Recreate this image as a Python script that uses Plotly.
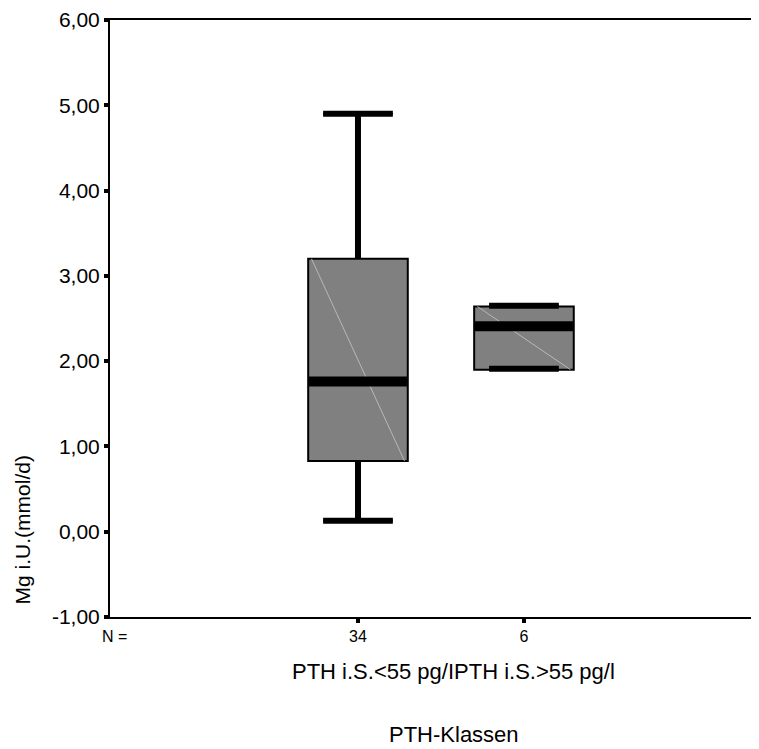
import plotly.graph_objects as go

# Data
categories = [0, 1]
n_labels = ["34", "6"]
q1 = [0.83, 1.90]
median = [1.76, 2.41]
q3 = [3.20, 2.64]
lower_fence = [0.13, 1.91]
upper_fence = [4.90, 2.65]
y_ticks = [-1, 0, 1, 2, 3, 4, 5, 6]
y_tick_labels = ["-1,00", "0,00", "1,00", "2,00", "3,00", "4,00", "5,00", "6,00"]

box_width = 0.6
cap_width = 0.42
fill = "#808080"

fig = go.Figure()

for i, x in enumerate(categories):
    fig.add_trace(go.Box(
        x=[x], q1=[q1[i]], median=[median[i]], q3=[q3[i]],
        lowerfence=[lower_fence[i]], upperfence=[upper_fence[i]],
        width=box_width, whiskerwidth=cap_width / box_width,
        fillcolor=fill, line=dict(color="black", width=2),
        boxpoints=False, showlegend=False, hoverinfo="skip",
    ))
    # faint diagonal artifact inside box
    fig.add_trace(go.Scatter(
        x=[x - box_width / 2 + 0.02, x + box_width / 2 - 0.02],
        y=[q3[i], q1[i]], mode="lines",
        line=dict(color="#b8b8b8", width=1), showlegend=False, hoverinfo="skip",
    ))
    # thick whisker stems
    if upper_fence[i] > q3[i] + 0.05:
        fig.add_trace(go.Scatter(x=[x, x], y=[q3[i], upper_fence[i]], mode="lines",
                                 line=dict(color="black", width=6), showlegend=False, hoverinfo="skip"))
    if lower_fence[i] < q1[i] - 0.05:
        fig.add_trace(go.Scatter(x=[x, x], y=[lower_fence[i], q1[i]], mode="lines",
                                 line=dict(color="black", width=6), showlegend=False, hoverinfo="skip"))
    # thick caps
    for f in (upper_fence[i], lower_fence[i]):
        fig.add_trace(go.Scatter(x=[x - cap_width / 2, x + cap_width / 2], y=[f, f], mode="lines",
                                 line=dict(color="black", width=6), showlegend=False, hoverinfo="skip"))
    # thick median
    fig.add_trace(go.Scatter(x=[x - box_width / 2 + 0.005, x + box_width / 2 - 0.005],
                             y=[median[i], median[i]], mode="lines",
                             line=dict(color="black", width=10), showlegend=False, hoverinfo="skip"))

font_family = "Liberation Sans, Arial, sans-serif"

# page body has an 8px margin; compensate so the plot lands where the reference has it
fig.update_layout(
    width=751, height=741,
    margin=dict(l=102, r=0, t=9, b=132),
    plot_bgcolor="white", paper_bgcolor="white",
    font=dict(family=font_family, color="black", size=21),
    showlegend=False,
    xaxis=dict(
        range=[-1.494, 2.416], tickvals=categories, ticktext=n_labels,
        showline=True, linecolor="black", linewidth=2, mirror=True,
        ticks="outside", ticklen=4, tickwidth=4, tickcolor="black",
        tickfont=dict(size=16), showgrid=False, zeroline=False,
    ),
    yaxis=dict(
        range=[-1, 6], tickvals=y_ticks, ticktext=y_tick_labels,
        showline=True, linecolor="black", linewidth=2,
        ticks="outside", ticklen=4, tickwidth=4, tickcolor="black",
        tickfont=dict(size=21), showgrid=False, zeroline=False,
        ticklabeloverflow="allow",
    ),
    annotations=[
        dict(text="N =", xref="paper", yref="paper", x=(114 - 110) / 649, y=-(637 - 617) / 600,
             showarrow=False, font=dict(size=16), xanchor="center", yanchor="middle"),
        dict(text="PTH i.S.<55 pg/IPTH i.S.>55 pg/l", xref="paper", yref="paper",
             x=(453 - 110) / 649, y=-(672 - 617) / 600, showarrow=False,
             font=dict(size=22), xanchor="center", yanchor="middle"),
        dict(text="PTH-Klassen", xref="paper", yref="paper",
             x=(454 - 110) / 649, y=-(735 - 617) / 600, showarrow=False,
             font=dict(size=22), xanchor="center", yanchor="middle"),
        dict(text="Mg i.U.(mmol/d)", xref="paper", yref="paper",
             x=-(110 - 22) / 649, y=(617 - 530) / 600, showarrow=False, textangle=-90,
             font=dict(size=21), xanchor="center", yanchor="middle"),
    ],
)

fig.write_html("out.html")
